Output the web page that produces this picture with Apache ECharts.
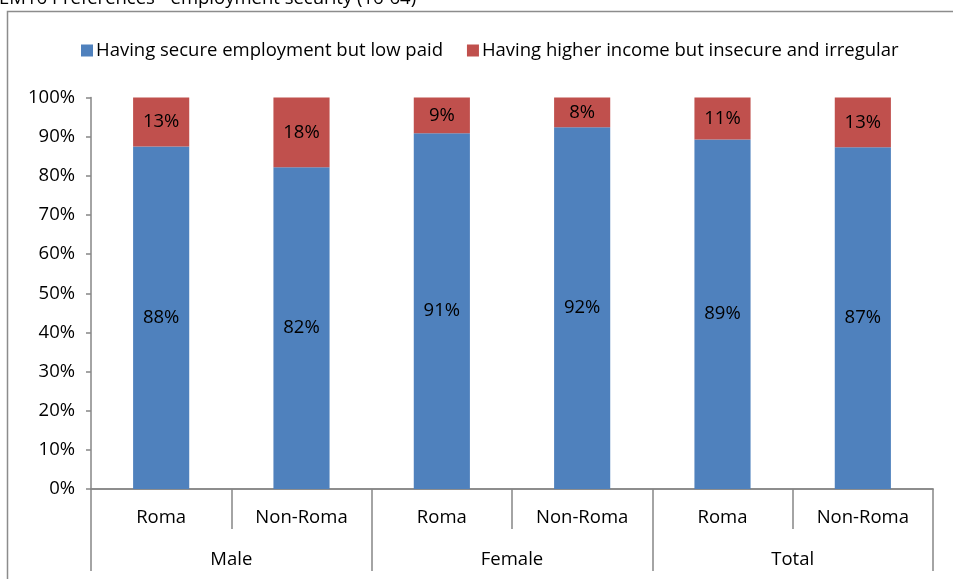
<!DOCTYPE html>
<html>
<head>
<meta charset="utf-8">
<script src="https://cdn.jsdelivr.net/npm/echarts@6/dist/echarts.min.js"></script>
<style>
  html, body { margin: 0; padding: 0; background: #fff; }
  #chart { width: 953px; height: 579px; }
</style>
</head>
<body>
<div id="chart"></div>
<script>
// Employment security preferences, 16-64, share of respondents (%)
const titleText = 'EM16 Preferences - employment security (16-64)';
const groups = ['Male', 'Female', 'Total'];
const categories = ['Roma', 'Non-Roma', 'Roma', 'Non-Roma', 'Roma', 'Non-Roma'];
const seriesNames = ['Having secure employment but low paid', 'Having higher income but insecure and irregular'];
const secureLowPaid = [87.5, 82.2, 90.9, 92.4, 89.3, 87.3];
const higherInsecure = [12.5, 17.8, 9.1, 7.6, 10.7, 12.7];
const yTicks = [0, 10, 20, 30, 40, 50, 60, 70, 80, 90, 100];

const FONT = 'Open Sans';
const FS = 18.5;
const AXIS_GRAY = '#868686';

const chart = echarts.init(document.getElementById('chart'), null, { renderer: 'canvas' });

const pctLabel = {
  show: true,
  position: 'inside',
  color: '#000',
  fontFamily: FONT,
  fontSize: FS,
  formatter: p => Math.round(p.value) + '%'
};

chart.setOption({
  animation: false,
  textStyle: { fontFamily: FONT },
  graphic: [
    {
      type: 'rect',
      shape: { x: 7.5, y: 11.5, width: 1000, height: 700 },
      style: { fill: 'none', stroke: '#8c8c8c', lineWidth: 1.5 },
      z: 0
    },
    {
      type: 'text',
      left: -1,
      top: -11,
      style: { text: titleText, fontFamily: FONT, fontSize: FS, fill: '#000' }
    }
  ],
  legend: {
    left: 76,
    top: 36,
    itemWidth: 12,
    itemHeight: 12,
    itemGap: 24,
    icon: 'rect',
    textStyle: { fontFamily: FONT, fontSize: FS, color: '#000', padding: [0, 0, 0, -2] },
    data: seriesNames
  },
  grid: { left: 91, right: 20, top: 97.5, bottom: 90, containLabel: false },
  xAxis: [
    {
      type: 'category',
      data: categories,
      position: 'bottom',
      axisLine: { lineStyle: { color: AXIS_GRAY, width: 1.5 } },
      axisTick: { show: true, length: 40, alignWithLabel: false, lineStyle: { color: AXIS_GRAY, width: 1.5 } },
      axisLabel: { color: '#000', fontSize: FS, fontFamily: FONT, margin: 19, interval: 0 }
    },
    {
      type: 'category',
      data: groups,
      position: 'bottom',
      axisLine: { lineStyle: { color: AXIS_GRAY, width: 1.5 } },
      axisTick: { show: true, length: 82, alignWithLabel: false, lineStyle: { color: AXIS_GRAY, width: 1.5 } },
      axisLabel: { color: '#000', fontSize: FS, fontFamily: FONT, margin: 61, interval: 0 }
    }
  ],
  yAxis: {
    type: 'value',
    min: yTicks[0],
    max: yTicks[yTicks.length - 1],
    interval: 10,
    axisLine: { show: true, lineStyle: { color: AXIS_GRAY, width: 1.5 } },
    axisTick: { show: true, length: 5, lineStyle: { color: AXIS_GRAY, width: 1.5 } },
    splitLine: { show: false },
    axisLabel: { color: '#000', fontSize: FS, fontFamily: FONT, margin: 16, formatter: '{value}%' }
  },
  series: [
    {
      name: seriesNames[0],
      type: 'bar',
      stack: 'share',
      xAxisIndex: 0,
      barWidth: '40%',
      itemStyle: { color: '#4F81BD' },
      label: pctLabel,
      data: secureLowPaid
    },
    {
      name: seriesNames[1],
      type: 'bar',
      stack: 'share',
      xAxisIndex: 0,
      barWidth: '40%',
      itemStyle: { color: '#C0504D' },
      label: pctLabel,
      data: higherInsecure
    }
  ]
});
</script>
</body>
</html>
